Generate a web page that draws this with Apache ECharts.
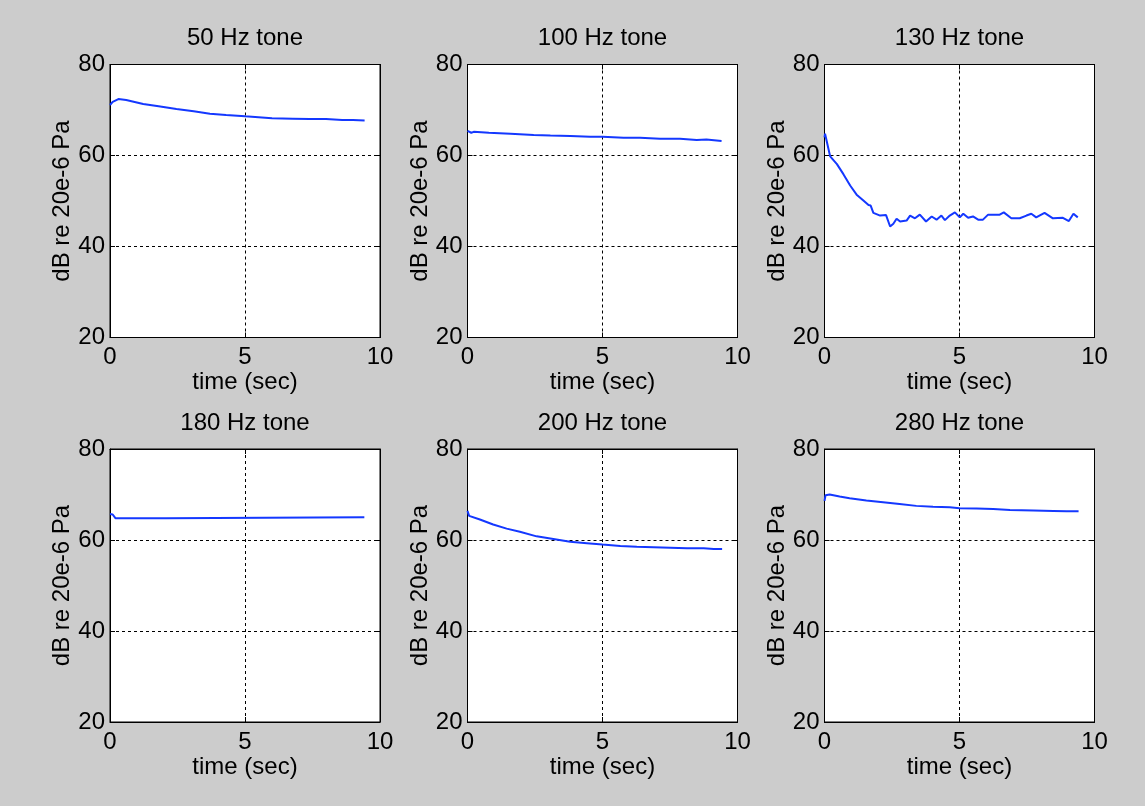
<!DOCTYPE html>
<html>
<head>
<meta charset="utf-8">
<script src="https://cdn.jsdelivr.net/npm/echarts@6/dist/echarts.min.js"></script>
<style>
html,body{margin:0;padding:0;background:#cccccc;}
#c{width:1145px;height:806px;}
</style>
</head>
<body>
<div id="c"></div>
<script>
// ---- data ----
const titles = ['50 Hz tone','100 Hz tone','130 Hz tone','180 Hz tone','200 Hz tone','280 Hz tone'];
const xTicks = [0, 5, 10];
const yTicks = [20, 40, 60, 80];
const xName = 'time (sec)';
const yName = 'dB re 20e-6 Pa';

const t50 = [0, 0.1, 0.31, 0.6, 1.23, 1.8, 2.46, 3.1, 3.7, 4.3, 5.0, 5.5, 6.0, 6.77, 7.4, 8.0, 8.6, 9.0, 9.43];
const v50 = [71.1, 71.8, 72.4, 72.2, 71.3, 70.8, 70.2, 69.7, 69.2, 68.9, 68.6, 68.4, 68.2, 68.1, 68.0, 68.0, 67.8, 67.8, 67.7];

const t100 = [0, 0.14, 0.23, 0.79, 1.59, 2.45, 3.07, 3.81, 4.54, 5.0, 5.78, 6.39, 7.13, 7.87, 8.49, 8.85, 9.41];
const v100 = [65.4, 65.0, 65.2, 65.0, 64.8, 64.5, 64.4, 64.3, 64.1, 64.1, 63.9, 63.9, 63.7, 63.7, 63.4, 63.5, 63.2];

const t130 = [0, 0.02, 0.09, 0.21, 0.46, 0.70, 0.95, 1.19, 1.44, 1.63, 1.71, 1.81, 2.06, 2.28, 2.43, 2.55, 2.67, 2.80, 3.04, 3.17, 3.35, 3.53, 3.76, 3.97, 4.15, 4.33, 4.46, 4.64, 4.83, 5.01, 5.14, 5.32, 5.50, 5.69, 5.87, 6.06, 6.24, 6.49, 6.64, 6.92, 7.23, 7.48, 7.66, 7.84, 8.15, 8.46, 8.83, 9.05, 9.22, 9.38];
const v130 = [64.0, 64.8, 64.5, 59.8, 58.1, 55.9, 53.4, 51.4, 50.1, 49.1, 49.0, 47.4, 46.8, 46.9, 44.4, 45.0, 46.1, 45.5, 45.7, 46.8, 46.2, 47.0, 45.5, 46.6, 45.9, 46.8, 45.8, 46.8, 47.5, 46.4, 47.2, 46.3, 46.6, 45.9, 45.9, 47.0, 47.0, 47.0, 47.5, 46.2, 46.2, 46.8, 47.2, 46.4, 47.4, 46.2, 46.3, 45.6, 47.2, 46.4];

const t180 = [0, 0.1, 0.2, 2.07, 2.1, 9.42];
const v180 = [65.7, 65.6, 64.8, 64.8, 65.0, 65.0];

const t200 = [0, 0.06, 0.46, 0.95, 1.45, 1.94, 2.56, 3.18, 3.80, 4.42, 5.0, 5.66, 6.27, 6.89, 7.51, 8.13, 8.75, 9.12, 9.43];
const v200 = [66.4, 65.3, 64.5, 63.4, 62.5, 61.8, 60.8, 60.2, 59.6, 59.3, 59.0, 58.7, 58.5, 58.4, 58.3, 58.2, 58.2, 58.0, 58.0];

const t280 = [0, 0.04, 0.19, 0.56, 0.93, 1.55, 2.17, 2.78, 3.40, 4.02, 4.64, 5.0, 5.63, 6.25, 6.87, 7.74, 8.48, 8.97, 9.41];
const v280 = [68.6, 69.85, 70.0, 69.55, 69.2, 68.7, 68.3, 67.9, 67.5, 67.3, 67.2, 67.0, 66.9, 66.8, 66.6, 66.5, 66.4, 66.3, 66.3];

const seriesT = [t50, t100, t130, t180, t200, t280];
const seriesV = [v50, v100, v130, v180, v200, v280];

// ---- layout ----
const colLeft = [110, 467.5, 824.5];
const rowTop = [64.5, 449];
const W = 270, H = 273;
const FONT = 'Liberation Sans, Arial, Helvetica, sans-serif';
const TXT = '#000000';

const grids = [], xAxes = [], yAxes = [], series = [], titleArr = [];
for (let i = 0; i < 6; i++) {
  const r = Math.floor(i / 3), c = i % 3;
  grids.push({left: colLeft[c], top: rowTop[r], width: W, height: H,
    show: true, backgroundColor: '#ffffff', borderColor: '#000000', borderWidth: 1, containLabel: false});
  titleArr.push({text: titles[i], left: colLeft[c] + W / 2, top: rowTop[r] - 38, textAlign: 'center', padding: 0,
    textStyle: {fontFamily: FONT, fontSize: 24, fontWeight: 'normal', color: TXT}});
  // bottom x axis
  xAxes.push({type: 'value', gridIndex: i, position: 'bottom', min: xTicks[0], max: xTicks[xTicks.length - 1], interval: 5,
    name: xName, nameLocation: 'middle', nameGap: 33,
    nameTextStyle: {fontFamily: FONT, fontSize: 24, color: TXT},
    axisLine: {show: true, onZero: false, lineStyle: {color: '#000', width: 1}},
    axisTick: {show: true, inside: true, length: 5, lineStyle: {color: '#000'}},
    axisLabel: {fontFamily: FONT, fontSize: 24, color: TXT, margin: 8},
    splitLine: {show: true, lineStyle: {color: '#000', type: [3, 3], width: 1}}});
  // left y axis
  yAxes.push({type: 'value', gridIndex: i, position: 'left', min: yTicks[0], max: yTicks[yTicks.length - 1], interval: 20,
    name: yName, nameLocation: 'middle', nameGap: 34, nameRotate: 90,
    nameTextStyle: {fontFamily: FONT, fontSize: 24, color: TXT},
    axisLine: {show: true, lineStyle: {color: '#000', width: 1}},
    axisTick: {show: true, inside: true, length: 5, lineStyle: {color: '#000'}},
    axisLabel: {fontFamily: FONT, fontSize: 24, color: TXT, margin: 5},
    splitLine: {show: true, lineStyle: {color: '#000', type: [3, 3], width: 1}}});
}
// mirrored tick axes (top / right), no labels
for (let i = 0; i < 6; i++) {
  xAxes.push({type: 'value', gridIndex: i, position: 'top', min: xTicks[0], max: xTicks[xTicks.length - 1], interval: 5,
    axisLine: {show: true, onZero: false, lineStyle: {color: '#000', width: 1}},
    axisTick: {show: true, inside: true, length: 5, lineStyle: {color: '#000'}},
    axisLabel: {show: false}, splitLine: {show: false}});
  yAxes.push({type: 'value', gridIndex: i, position: 'right', min: yTicks[0], max: yTicks[yTicks.length - 1], interval: 20,
    axisLine: {show: true, onZero: false, lineStyle: {color: '#000', width: 1}},
    axisTick: {show: true, inside: true, length: 5, lineStyle: {color: '#000'}},
    axisLabel: {show: false}, splitLine: {show: false}});
}
for (let i = 0; i < 6; i++) {
  series.push({type: 'line', xAxisIndex: i, yAxisIndex: i, showSymbol: false, symbol: 'none',
    data: seriesT[i].map((t, k) => [t, seriesV[i][k]]),
    lineStyle: {color: '#1438ff', width: 2}, animation: false});
}

const chart = echarts.init(document.getElementById('c'), null, {renderer: 'canvas'});
chart.setOption({
  backgroundColor: '#cccccc',
  animation: false,
  title: titleArr,
  grid: grids,
  xAxis: xAxes,
  yAxis: yAxes,
  series: series
});
</script>
</body>
</html>
